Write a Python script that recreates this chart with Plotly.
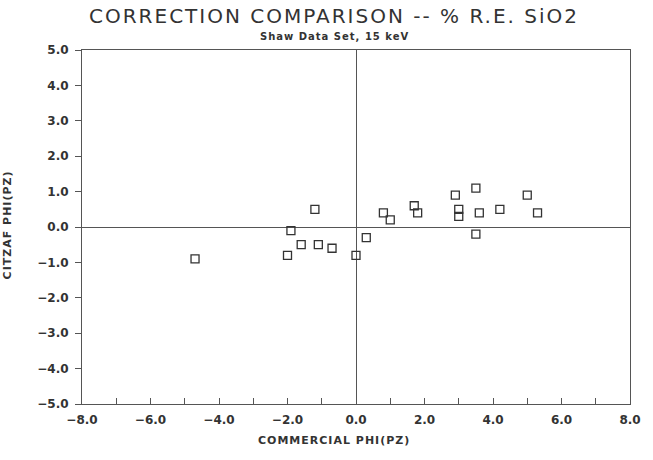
import plotly.graph_objects as go

# Data (Commercial PHI(PZ) vs CITZAF PHI(PZ), % R.E. SiO2)
commercial = [-4.7, -2.0, -1.9, -1.6, -1.2, -1.1, -0.7, 0.0, 0.3, 0.8, 1.0,
              1.7, 1.8, 2.9, 3.0, 3.0, 3.5, 3.6, 3.5, 4.2, 5.0, 5.3]
citzaf = [-0.9, -0.8, -0.1, -0.5, 0.5, -0.5, -0.6, -0.8, -0.3, 0.4, 0.2,
          0.6, 0.4, 0.9, 0.5, 0.3, 1.1, 0.4, -0.2, 0.5, 0.9, 0.4]

x_ticks = [-8, -6, -4, -2, 0, 2, 4, 6, 8]
y_ticks = [5, 4, 3, 2, 1, 0, -1, -2, -3, -4, -5]

title_text = "CORRECTION COMPARISON -- % R.E. SiO2"
subtitle_text = "Shaw Data Set, 15 keV"
x_title = "COMMERCIAL PHI(PZ)"
y_title = "CITZAF PHI(PZ)"

W, H = 653, 460
L, R, T, B = 82, 20, 50, 56
pw, ph = W - L - R, H - T - B


def px(x):
    return (x - L) / pw


def py(y):
    return (H - B - y) / ph


ink = "#333333"
line_col = "#555555"

fig = go.Figure()
fig.add_trace(go.Scatter(
    x=commercial, y=citzaf, mode="markers",
    marker=dict(symbol="square-open", size=8, color=ink, line=dict(width=1.3, color=ink)),
    showlegend=False, hoverinfo="x+y",
))

fig.update_layout(
    width=W, height=H,
    margin=dict(l=L, r=R, t=T, b=B, pad=0),
    paper_bgcolor="white", plot_bgcolor="white",
    font=dict(family="DejaVu Sans", color=ink),
    xaxis=dict(
        range=[-8, 8], tickvals=x_ticks, tickformat=".1f",
        ticks="inside", ticklen=6, tickwidth=1, tickcolor=line_col,
        minor=dict(dtick=1, ticks="inside", ticklen=6, tickwidth=1, tickcolor=line_col),
        showline=True, linecolor=line_col, linewidth=1, mirror=True,
        showgrid=False, zeroline=True, zerolinecolor=line_col, zerolinewidth=1,
        tickfont=dict(size=12, weight="bold", color=ink),
        ticklabelstandoff=5,
    ),
    yaxis=dict(
        range=[-5, 5], tickvals=y_ticks, tickformat=".1f",
        ticks="outside", ticklen=6, tickwidth=1, tickcolor=line_col,
        showline=True, linecolor=line_col, linewidth=1, mirror=True,
        showgrid=False, zeroline=True, zerolinecolor=line_col, zerolinewidth=1,
        tickfont=dict(size=12, weight="bold", color=ink),
        ticklabelstandoff=4,
    ),
    annotations=[
        dict(text="<span style='letter-spacing:2px'>" + title_text + "</span>",
             x=px(335.5), y=py(16), xref="paper", yref="paper",
             xanchor="center", yanchor="middle", showarrow=False,
             font=dict(size=20, color=ink)),
        dict(text="<span style='letter-spacing:1px'>" + subtitle_text + "</span>",
             x=px(336), y=py(37), xref="paper", yref="paper",
             xanchor="center", yanchor="middle", showarrow=False,
             font=dict(size=10, weight="bold", color=ink)),
        dict(text="<span style='letter-spacing:1px'>" + x_title + "</span>",
             x=px(335), y=py(440), xref="paper", yref="paper",
             xanchor="center", yanchor="middle", showarrow=False,
             font=dict(size=11, weight="bold", color=ink)),
        dict(text="<span style='letter-spacing:1px'>" + y_title + "</span>",
             x=px(7), y=py(225), xref="paper", yref="paper",
             xanchor="center", yanchor="middle", showarrow=False, textangle=-90,
             font=dict(size=11, weight="bold", color=ink)),
    ],
)

fig.write_html("out.html")
